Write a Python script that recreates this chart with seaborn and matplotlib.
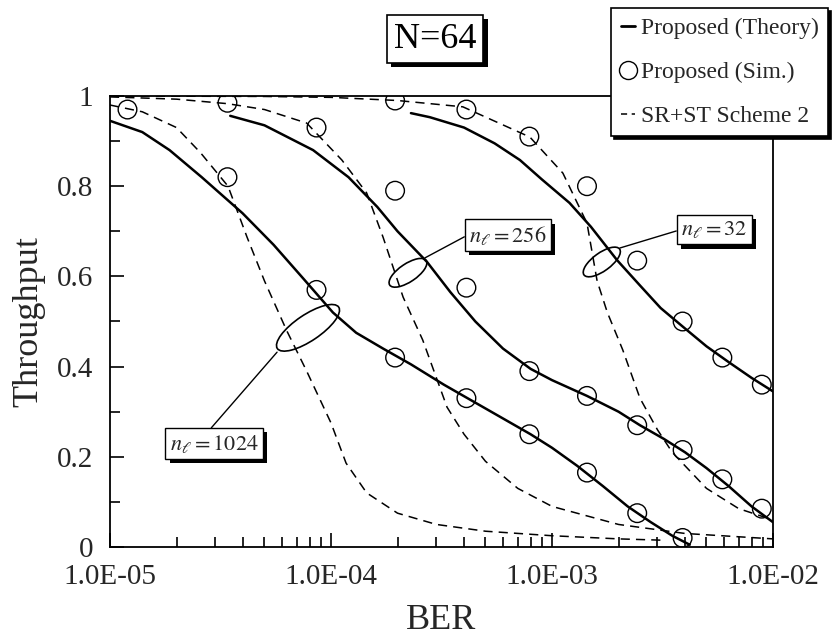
import numpy as np
import pandas as pd
import matplotlib
matplotlib.use("Agg")
import matplotlib.pyplot as plt
import matplotlib.patheffects as pe
import seaborn as sns
from matplotlib.lines import Line2D
from matplotlib.patches import Ellipse
from matplotlib.transforms import ScaledTranslation
from matplotlib.ticker import FuncFormatter, MultipleLocator, LogLocator

# ---------------- data ----------------
# Proposed (Theory)
th1024_x = [1.0e-5, 1.4e-5, 1.86e-5, 2.6e-5, 3.98e-5, 5.5e-5, 7.5e-5, 1.02e-4, 1.3e-4, 1.72e-4,
            2.3e-4, 3.24e-4, 4.5e-4, 6e-4, 8e-4, 1.0e-3, 1.3e-3, 1.7e-3, 2.2e-3, 2.8e-3, 3.5e-3, 4.2e-3]
th1024_y = [0.945, 0.92, 0.88, 0.82, 0.74, 0.67, 0.595, 0.52, 0.475, 0.44,
            0.405, 0.36, 0.32, 0.285, 0.25, 0.22, 0.18, 0.135, 0.09, 0.055, 0.025, 0.005]
th256_x = [3.5e-5, 5e-5, 8.3e-5, 1.2e-4, 1.62e-4, 2.0e-4, 2.72e-4, 3.47e-4, 4.5e-4, 6e-4, 8e-4,
           1.0e-3, 1.44e-3, 2.0e-3, 2.5e-3, 3.2e-3, 4.0e-3, 5.0e-3, 6.3e-3, 8.0e-3, 1.0e-2]
th256_y = [0.956, 0.935, 0.88, 0.82, 0.754, 0.70, 0.632, 0.565, 0.50, 0.44, 0.395,
           0.37, 0.335, 0.30, 0.27, 0.24, 0.21, 0.175, 0.135, 0.09, 0.055]
th32_x = [2.3e-4, 2.8e-4, 4e-4, 5.5e-4, 7.16e-4, 9e-4, 1.2e-3, 1.5e-3, 1.97e-3, 2.5e-3,
          3.1e-3, 3.92e-3, 5e-3, 6.3e-3, 8e-3, 1.0e-2]
th32_y = [0.962, 0.953, 0.93, 0.895, 0.858, 0.815, 0.763, 0.71, 0.636, 0.58,
          0.53, 0.488, 0.445, 0.41, 0.375, 0.345]

# SR+ST Scheme 2
sr1024_x = [1.0e-5, 1.4e-5, 2.0e-5, 2.57e-5, 3.42e-5, 4.17e-5, 5.0e-5, 6.3e-5, 7.76e-5, 1.0e-4,
            1.17e-4, 1.45e-4, 2.0e-4, 3.0e-4, 5.0e-4, 1.0e-3, 2.0e-3, 3.2e-3]
sr1024_y = [0.98, 0.965, 0.93, 0.874, 0.80, 0.687, 0.59, 0.48, 0.39, 0.275,
            0.186, 0.12, 0.075, 0.05, 0.035, 0.025, 0.018, 0.015]
sr256_x = [1.0e-5, 2.0e-5, 3.4e-5, 5.0e-5, 7.76e-5, 1.12e-4, 1.45e-4, 1.72e-4, 2.12e-4, 2.6e-4,
           3.35e-4, 4.0e-4, 5.0e-4, 7.0e-4, 1.0e-3, 2.0e-3, 4.0e-3, 1.0e-2]
sr256_y = [0.998, 0.993, 0.983, 0.97, 0.94, 0.858, 0.785, 0.687, 0.554, 0.459,
           0.31, 0.25, 0.19, 0.13, 0.09, 0.05, 0.03, 0.018]
sr32_x = [1.0e-5, 5e-5, 1.0e-4, 2.0e-4, 3.95e-4, 7.94e-4, 1.12e-3, 1.44e-3, 1.6e-3, 1.78e-3,
          2.09e-3, 2.5e-3, 3.0e-3, 3.5e-3, 4.0e-3, 5.0e-3, 7.0e-3, 1.0e-2]
sr32_y = [1.0, 0.999, 0.997, 0.99, 0.976, 0.909, 0.829, 0.718, 0.59, 0.52,
          0.437, 0.33, 0.26, 0.21, 0.18, 0.13, 0.085, 0.06]

# Proposed (Sim.)
sim1024_x = [1.2e-5, 3.4e-5, 8.6e-5, 1.95e-4, 4.1e-4, 7.9e-4, 1.44e-3, 2.43e-3, 3.9e-3]
sim1024_y = [0.97, 0.82, 0.57, 0.42, 0.33, 0.25, 0.165, 0.075, 0.02]
sim256_x = [3.4e-5, 8.6e-5, 1.95e-4, 4.1e-4, 7.9e-4, 1.44e-3, 2.43e-3, 3.9e-3, 5.9e-3, 8.9e-3]
sim256_y = [0.985, 0.93, 0.79, 0.575, 0.39, 0.335, 0.27, 0.215, 0.15, 0.085]
sim32_x = [1.95e-4, 4.1e-4, 7.9e-4, 1.44e-3, 2.43e-3, 3.9e-3, 5.9e-3, 8.9e-3]
sim32_y = [0.99, 0.97, 0.91, 0.80, 0.635, 0.50, 0.42, 0.36]

legend_labels = ["Proposed (Theory)", "Proposed (Sim.)", "SR+ST Scheme 2"]
title_text = "N=64"
x_label = "BER"
y_label = "Throughput"

# ---------------- style ----------------
sns.set_theme(style="ticks")
plt.rcParams["font.family"] = ["Liberation Serif", "DejaVu Serif"]
plt.rcParams["mathtext.fontset"] = "stix"

fig = plt.figure(figsize=(8.32, 6.44), dpi=100)
ax = fig.add_axes([110 / 832, 1 - 547 / 644, (773 - 110) / 832, (547 - 96) / 644])
ax.set_xscale("log")

solid_kw = dict(color="black", lw=1.8, estimator=None, sort=True, ax=ax, legend=False)
dash_kw = dict(color="black", lw=1.1, estimator=None, sort=True, ax=ax, legend=False)

for xs, ys in [(th1024_x, th1024_y), (th256_x, th256_y), (th32_x, th32_y)]:
    sns.lineplot(x=xs, y=ys, **solid_kw)
for xs, ys in [(sr1024_x, sr1024_y), (sr256_x, sr256_y), (sr32_x, sr32_y)]:
    l = sns.lineplot(x=xs, y=ys, **dash_kw).lines[-1]
    l.set_dashes((6, 4))
for xs, ys in [(sim1024_x, sim1024_y), (sim256_x, sim256_y), (sim32_x, sim32_y)]:
    sns.scatterplot(x=xs, y=ys, marker="o", s=180, facecolors="none",
                    edgecolor="black", linewidth=1.0, ax=ax, legend=False, zorder=4)

ax.set_xlim(1e-5, 1e-2)
ax.set_ylim(0, 1)
ax.xaxis.set_major_locator(LogLocator(base=10, numticks=10))
ax.xaxis.set_minor_locator(LogLocator(base=10, subs=np.arange(2, 10), numticks=20))
ax.xaxis.set_major_formatter(FuncFormatter(lambda v, p: f"{v:.1E}"))
ax.yaxis.set_major_locator(MultipleLocator(0.2))
ax.yaxis.set_minor_locator(MultipleLocator(0.1))
ax.yaxis.set_major_formatter(FuncFormatter(lambda v, p: f"{v:g}"))
ax.tick_params(which="both", direction="in", top=False, right=False, color="black",
               labelsize=21, pad=12, width=1.2)
ax.tick_params(which="major", length=10)
ax.tick_params(which="minor", length=7)
for s in ax.spines.values():
    s.set_linewidth(1.3)
    s.set_color("black")
ax.set_xlabel(x_label, fontsize=26, labelpad=10)
ax.set_ylabel(y_label, fontsize=26, labelpad=8)

# ---------------- legend ----------------
handles = [Line2D([], [], color="black", lw=2.0),
           Line2D([], [], color="black", ls="none", marker="o", mfc="none", mec="black", ms=13, mew=1.0),
           Line2D([], [], color="black", lw=1.1, dashes=(4, 3))]
leg = ax.legend(handles, legend_labels, loc="upper right", bbox_to_anchor=(828 / 832, 1 - 8 / 644),
                bbox_transform=fig.transFigure, borderaxespad=0, fontsize=17, frameon=True,
                fancybox=False, edgecolor="black", framealpha=1, handlelength=0.6,
                handletextpad=0.25, borderpad=0.4, labelspacing=0.95,
                shadow={"color": "black", "alpha": 1.0})
leg.get_frame().set_linewidth(1.2)
leg.set_zorder(10)

shadow_fx = [pe.SimplePatchShadow(offset=(3, -3), shadow_rgbFace="black", alpha=1.0), pe.Normal()]

# ---------------- title box ----------------
t = fig.text(435 / 832, 1 - 39 / 644, title_text, ha="center", va="center", fontsize=26,
             color="black", bbox=dict(boxstyle="square,pad=0.2", fc="white", ec="black", lw=1.2))
t.get_bbox_patch().set_path_effects(shadow_fx)

# ---------------- annotations ----------------
def ring(xc, yc, w_px, h_px, ang):
    tr = fig.dpi_scale_trans + ScaledTranslation(xc, yc, ax.transData)
    ax.add_patch(Ellipse((0, 0), w_px / fig.dpi, h_px / fig.dpi, angle=ang, fill=False,
                         ec="black", lw=1.2, transform=tr, zorder=5))

def label_box(text, xt, yt, xy, relpos):
    a = ax.annotate(text, xy=xy, xytext=(xt, yt), ha="center", va="center", fontsize=16,
                    bbox=dict(boxstyle="square,pad=0.2", fc="white", ec="black", lw=1.0),
                    arrowprops=dict(arrowstyle="-", lw=1.0, color="black", shrinkA=0, shrinkB=0,
                                    relpos=relpos), zorder=7)
    a.get_bbox_patch().set_path_effects(shadow_fx)

ring(7.87e-5, 0.486, 74, 26, 34)
ring(2.23e-4, 0.608, 44, 18, 34)
ring(1.68e-3, 0.632, 44, 18, 36)

label_box(r"$n_\ell = 1024$", 2.96e-5, 0.229, (5.7e-5, 0.432), (0.42, 1.0))
label_box(r"$n_\ell = 256$", 6.32e-4, 0.691, (2.66e-4, 0.641), (0.0, 0.55))
label_box(r"$n_\ell = 32$", 5.43e-3, 0.704, (2.03e-3, 0.663), (0.0, 0.5))

fig.savefig("out.png", dpi=100)
